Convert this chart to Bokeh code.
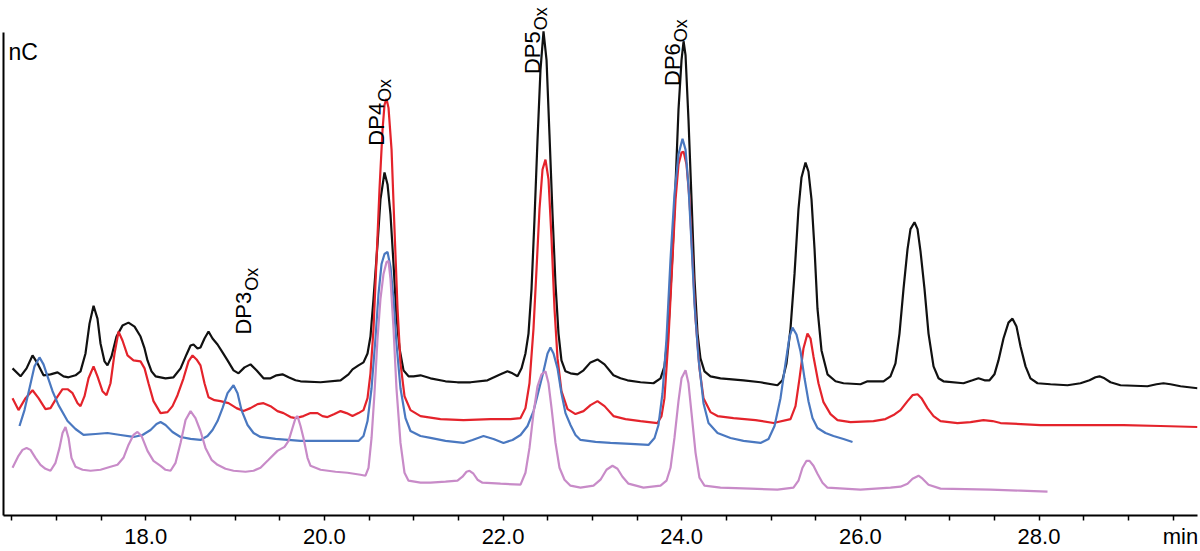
from bokeh.plotting import figure
from bokeh.models import Range1d, LinearAxis, FixedTicker, PrintfTickFormatter, Label
from bokeh.embed import file_html
from bokeh.resources import INLINE

# ---------------- data (retention time in min, detector signal in nC, arbitrary offset) -------------
black_t = [16.509, 16.599, 16.666, 16.733, 16.789, 16.856, 16.934, 17.013, 17.080, 17.136,
           17.214, 17.270, 17.326, 17.371, 17.416, 17.460, 17.494, 17.539, 17.572, 17.617,
           17.673, 17.740, 17.807, 17.875, 17.942, 17.987, 18.020, 18.065, 18.110, 18.222,
           18.311, 18.390, 18.457, 18.502, 18.535, 18.580, 18.613, 18.658, 18.703, 18.748,
           18.804, 18.860, 18.916, 18.983, 19.039, 19.106, 19.173, 19.240, 19.319, 19.397,
           19.464, 19.531, 19.599, 19.677, 19.733, 19.957, 20.181, 20.270, 20.315, 20.382,
           20.438, 20.483, 20.516, 20.550, 20.595, 20.628, 20.673, 20.707, 20.740, 20.774,
           20.807, 20.841, 20.886, 20.942, 20.998, 21.076, 21.188, 21.356, 21.490, 21.636,
           21.826, 21.972, 22.050, 22.106, 22.162, 22.207, 22.251, 22.285, 22.319, 22.352,
           22.386, 22.419, 22.453, 22.487, 22.520, 22.554, 22.587, 22.621, 22.654, 22.699,
           22.755, 22.834, 22.901, 22.979, 23.057, 23.136, 23.236, 23.315, 23.393, 23.539,
           23.684, 23.763, 23.807, 23.852, 23.897, 23.931, 23.964, 23.998, 24.021, 24.043,
           24.076, 24.110, 24.143, 24.177, 24.210, 24.255, 24.322, 24.434, 24.692, 24.882,
           25.072, 25.128, 25.173, 25.218, 25.263, 25.307, 25.341, 25.386, 25.419, 25.453,
           25.487, 25.520, 25.565, 25.632, 25.722, 25.811, 26.001, 26.080, 26.259, 26.337,
           26.393, 26.438, 26.483, 26.528, 26.561, 26.606, 26.640, 26.673, 26.718, 26.763,
           26.819, 26.875, 26.930, 27.154, 27.255, 27.322, 27.390, 27.446, 27.501, 27.546,
           27.602, 27.658, 27.703, 27.748, 27.793, 27.849, 27.904, 27.983, 28.128, 28.319,
           28.464, 28.565, 28.632, 28.677, 28.733, 28.800, 28.912, 29.214, 29.315, 29.393,
           29.472, 29.584, 29.774]
black_nc = [148, 140, 148, 161, 153, 141, 142, 144, 140, 139,
            141, 145, 163, 193, 211, 198, 173, 155, 151, 160,
            180, 191, 194, 190, 180, 168, 156, 145, 140, 138,
            139, 148, 162, 171, 172, 168, 169, 178, 185, 178,
            172, 164, 156, 146, 143, 149, 152, 146, 138, 138,
            141, 142, 139, 136, 135, 134, 136, 142, 147, 151,
            154, 163, 180, 218, 273, 318, 345, 333, 303, 253,
            200, 168, 146, 140, 140, 141, 138, 135, 134, 134,
            136, 142, 145, 143, 140, 148, 163, 183, 228, 298,
            378, 448, 487, 458, 383, 303, 233, 183, 156, 145,
            143, 142, 146, 154, 157, 152, 141, 138, 136, 134,
            133, 138, 150, 188, 263, 333, 408, 458, 477, 463,
            398, 318, 238, 183, 158, 145, 140, 138, 136, 134,
            131, 136, 153, 188, 243, 308, 340, 355, 346, 318,
            268, 208, 166, 142, 135, 133, 132, 135, 135, 140,
            153, 183, 228, 268, 288, 295, 288, 266, 228, 183,
            150, 138, 135, 133, 136, 138, 136, 136, 142, 156,
            178, 194, 198, 190, 170, 150, 138, 133, 132, 131,
            133, 136, 139, 140, 138, 134, 131, 130, 132, 133,
            132, 130, 128]

red_t = [16.509, 16.576, 16.655, 16.733, 16.800, 16.878, 16.934, 17.001, 17.069, 17.125,
         17.181, 17.237, 17.270, 17.315, 17.360, 17.416, 17.460, 17.516, 17.561, 17.606,
         17.651, 17.696, 17.740, 17.796, 17.863, 17.942, 17.987, 18.031, 18.087, 18.166,
         18.244, 18.300, 18.356, 18.423, 18.479, 18.524, 18.569, 18.613, 18.658, 18.703,
         18.770, 18.837, 18.927, 19.016, 19.095, 19.173, 19.252, 19.319, 19.397, 19.475,
         19.543, 19.621, 19.677, 19.766, 19.845, 19.923, 19.979, 20.035, 20.113, 20.181,
         20.248, 20.315, 20.382, 20.438, 20.483, 20.516, 20.550, 20.584, 20.617, 20.651,
         20.673, 20.696, 20.718, 20.752, 20.785, 20.819, 20.852, 20.897, 20.964, 21.076,
         21.300, 21.557, 21.860, 22.084, 22.196, 22.251, 22.296, 22.341, 22.375, 22.408,
         22.442, 22.475, 22.509, 22.543, 22.576, 22.610, 22.654, 22.722, 22.811, 22.901,
         22.979, 23.057, 23.136, 23.236, 23.371, 23.539, 23.729, 23.774, 23.807, 23.852,
         23.897, 23.931, 23.964, 23.998, 24.021, 24.054, 24.087, 24.121, 24.155, 24.199,
         24.244, 24.322, 24.401, 24.580, 24.826, 25.028, 25.218, 25.274, 25.319, 25.363,
         25.408, 25.442, 25.475, 25.531, 25.587, 25.666, 25.744, 25.890, 26.147, 26.281,
         26.371, 26.449, 26.528, 26.584, 26.640, 26.684, 26.751, 26.819, 26.897, 27.087,
         27.233, 27.378, 27.479, 27.569, 28.016, 28.386, 28.946, 29.360, 29.774]
red_nc = [118, 106, 118, 126, 118, 107, 108, 118, 127, 127,
          123, 113, 110, 120, 138, 150, 140, 125, 121, 133,
          163, 185, 176, 161, 156, 155, 148, 133, 115, 103,
          104, 110, 121, 138, 155, 161, 157, 151, 133, 119,
          116, 115, 113, 108, 105, 108, 112, 113, 110, 105,
          103, 99, 98, 100, 103, 103, 100, 99, 102, 105,
          103, 100, 103, 106, 118, 143, 188, 258, 328, 388,
          413, 419, 410, 368, 288, 208, 153, 120, 106, 100,
          97, 96, 97, 97, 98, 108, 133, 188, 248, 308,
          348, 358, 338, 278, 208, 158, 125, 107, 102, 105,
          111, 115, 110, 100, 97, 95, 93, 100, 118, 178,
          258, 318, 353, 365, 366, 353, 318, 258, 198, 148,
          118, 104, 100, 98, 96, 93, 97, 110, 138, 168,
          183, 178, 160, 133, 114, 102, 96, 94, 95, 97,
          101, 106, 115, 121, 122, 118, 108, 100, 95, 93,
          94, 96, 95, 93, 91, 91, 91, 90, 89]

blue_t = [16.587, 16.643, 16.699, 16.755, 16.811, 16.856, 16.901, 16.957, 17.024, 17.125,
          17.214, 17.304, 17.438, 17.572, 17.718, 17.863, 17.964, 18.054, 18.121, 18.166,
          18.222, 18.300, 18.390, 18.502, 18.613, 18.692, 18.748, 18.804, 18.860, 18.916,
          18.983, 19.028, 19.072, 19.140, 19.207, 19.285, 19.453, 19.733, 20.181, 20.382,
          20.438, 20.483, 20.528, 20.572, 20.606, 20.640, 20.673, 20.707, 20.740, 20.774,
          20.807, 20.852, 20.908, 20.964, 21.076, 21.188, 21.356, 21.557, 21.658, 21.781,
          21.893, 22.005, 22.106, 22.196, 22.274, 22.341, 22.397, 22.453, 22.498, 22.531,
          22.565, 22.610, 22.654, 22.699, 22.755, 22.811, 22.867, 23.035, 23.203, 23.427,
          23.628, 23.696, 23.740, 23.785, 23.830, 23.875, 23.919, 23.964, 24.009, 24.043,
          24.076, 24.110, 24.143, 24.188, 24.244, 24.300, 24.401, 24.546, 24.692, 24.882,
          24.972, 25.039, 25.106, 25.162, 25.207, 25.240, 25.285, 25.330, 25.375, 25.419,
          25.464, 25.520, 25.610, 25.699, 25.811, 25.912]
blue_nc = [90, 106, 128, 150, 159, 152, 140, 125, 111, 95,
           87, 81, 82, 83, 81, 79, 81, 86, 92, 94,
           91, 84, 79, 77, 76, 80, 86, 95, 108, 123,
           131, 123, 106, 91, 83, 79, 77, 75, 75, 75,
           80, 95, 128, 178, 223, 253, 263, 265, 250, 218,
           173, 128, 98, 85, 80, 78, 75, 73, 76, 80,
           77, 73, 76, 81, 90, 105, 125, 145, 163, 169,
           163, 148, 123, 103, 91, 81, 76, 74, 73, 72,
           71, 78, 91, 123, 178, 258, 323, 363, 379, 368,
           331, 273, 213, 158, 113, 93, 83, 78, 75, 73,
           77, 90, 118, 153, 180, 189, 182, 165, 138, 115,
           98, 88, 83, 80, 77, 74]

purple_t = [16.509, 16.576, 16.621, 16.666, 16.710, 16.766, 16.822, 16.878, 16.934, 16.990,
            17.035, 17.069, 17.102, 17.136, 17.169, 17.214, 17.293, 17.382, 17.494, 17.606,
            17.684, 17.751, 17.807, 17.863, 17.908, 17.953, 18.020, 18.087, 18.166, 18.222,
            18.278, 18.334, 18.390, 18.446, 18.502, 18.557, 18.613, 18.669, 18.737, 18.804,
            18.893, 18.983, 19.117, 19.207, 19.285, 19.375, 19.475, 19.554, 19.599, 19.643,
            19.677, 19.699, 19.733, 19.766, 19.811, 19.845, 19.957, 20.125, 20.259, 20.404,
            20.460, 20.494, 20.528, 20.561, 20.595, 20.628, 20.662, 20.696, 20.718, 20.740,
            20.774, 20.807, 20.852, 20.897, 20.942, 21.076, 21.188, 21.356, 21.490, 21.546,
            21.591, 21.625, 21.669, 21.714, 21.770, 21.972, 22.196, 22.251, 22.296, 22.341,
            22.386, 22.431, 22.475, 22.509, 22.543, 22.587, 22.632, 22.688, 22.755, 22.867,
            23.013, 23.091, 23.158, 23.225, 23.281, 23.337, 23.404, 23.572, 23.763, 23.830,
            23.875, 23.919, 23.964, 23.998, 24.043, 24.076, 24.110, 24.155, 24.199, 24.255,
            24.434, 24.770, 25.072, 25.251, 25.307, 25.352, 25.397, 25.431, 25.475, 25.520,
            25.576, 25.632, 26.001, 26.337, 26.449, 26.528, 26.584, 26.651, 26.696, 26.763,
            26.897, 27.457, 27.793, 28.095]
purple_nc = [48, 60, 66, 68, 66, 58, 51, 47, 45, 53,
             68, 83, 89, 78, 58, 49, 46, 45, 46, 49,
             51, 58, 71, 81, 84, 80, 65, 55, 50, 46,
             45, 53, 73, 96, 105, 98, 85, 68, 56, 51,
             47, 45, 44, 45, 48, 56, 65, 69, 75, 88,
             98, 100, 90, 78, 58, 50, 46, 44, 43, 41,
             40, 48, 78, 123, 178, 218, 243, 255, 256, 238,
             188, 128, 73, 43, 35, 33, 33, 34, 35, 39,
             44, 45, 42, 36, 33, 32, 31, 43, 68, 103,
             130, 142, 145, 133, 108, 73, 48, 36, 30, 28,
             30, 36, 46, 50, 47, 39, 32, 28, 30, 35,
             48, 78, 115, 138, 146, 133, 103, 63, 38, 30,
             28, 27, 26, 28, 35, 48, 55, 55, 50, 42,
             33, 28, 26, 28, 29, 32, 37, 40, 37, 31,
             27, 26, 25, 24]

tick_labels_at = [18.0, 20.0, 22.0, 24.0, 26.0, 28.0]
unit_label_at = 29.584
tick_marks_at = [16.5, 17.0, 17.5, 18.0, 18.5, 19.0, 19.5, 20.0, 20.5, 21.0, 21.5, 22.0,
                 22.5, 23.0, 23.5, 24.0, 24.5, 25.0, 25.5, 26.0, 26.5, 27.0, 27.5, 28.0,
                 28.5, 29.0, 29.5]

peak_names = ["DP3", "DP4", "DP5", "DP6"]
peak_label_t = [19.095, 20.584, 22.330, 23.897]   # baseline position of rotated label
peak_label_nc = [182, 372, 444, 432]               # start of rotated label

# ---------------- figure ----------------
FONT = "Liberation Sans"
X0, X1 = 16.408, 29.774
p = figure(width=1200, height=551, x_range=Range1d(X0, X1), y_range=Range1d(0, 518),
           output_backend="svg", toolbar_location=None,
           x_axis_location=None, y_axis_location=None,
           min_border_left=3, min_border_right=3, min_border_top=0, min_border_bottom=33)
p.outline_line_color = None
p.background_fill_color = "white"
p.border_fill_color = "white"
p.xgrid.visible = False
p.ygrid.visible = False

xaxis = LinearAxis(ticker=FixedTicker(ticks=tick_labels_at + [unit_label_at],
                                      minor_ticks=tick_marks_at),
                   formatter=PrintfTickFormatter(format="%.1f"))
xaxis.major_label_overrides = {unit_label_at: "min"}
xaxis.axis_line_width = 2
xaxis.axis_line_color = "black"
xaxis.major_tick_out = 5
xaxis.major_tick_in = 0
xaxis.major_tick_line_color = None
xaxis.minor_tick_out = 5
xaxis.minor_tick_in = 0
xaxis.minor_tick_line_width = 1.5
xaxis.minor_tick_line_color = "black"
xaxis.major_label_text_font = FONT
xaxis.major_label_text_font_size = "22px"
xaxis.major_label_text_color = "black"
xaxis.major_label_standoff = 3
p.add_layout(xaxis, "below")

yaxis = LinearAxis(ticker=FixedTicker(ticks=[]), bounds=(0, 486))
yaxis.axis_line_width = 2
yaxis.axis_line_color = "black"
yaxis.major_tick_out = 0
yaxis.major_tick_in = 0
yaxis.minor_tick_out = 0
yaxis.minor_tick_in = 0
yaxis.major_label_standoff = 0
yaxis.major_label_text_font_size = "0px"
p.add_layout(yaxis, "left")

lw = 2.2
p.line(black_t, black_nc, line_color="#111111", line_width=lw)
p.line(red_t, red_nc, line_color="#e4232b", line_width=lw)
p.line(blue_t, blue_nc, line_color="#4a78c0", line_width=lw)
p.line(purple_t, purple_nc, line_color="#c88bc8", line_width=lw)

# texts
p.add_layout(Label(x=X0, y=466, x_offset=5, text="nC", text_font=FONT,
                   text_font_size="23px", text_color="black", text_baseline="alphabetic"))

px_per_min = 1194 / (X1 - X0)
for name, lt, ly in zip(peak_names, peak_label_t, peak_label_nc):
    p.add_layout(Label(x=lt, y=ly, text=name, angle=1.5708, text_font=FONT,
                       text_font_size="22px", text_color="black",
                       text_align="left", text_baseline="alphabetic"))
    p.add_layout(Label(x=lt + 8 / px_per_min, y=ly + 44, text="Ox", angle=1.5708,
                       text_font=FONT, text_font_size="18px", text_color="black",
                       text_align="left", text_baseline="alphabetic"))

open("out.html", "w").write(file_html(p, INLINE))
